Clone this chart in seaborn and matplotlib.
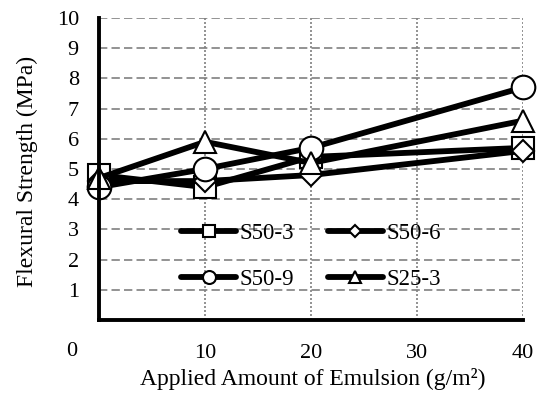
import matplotlib
matplotlib.use("Agg")
import matplotlib.pyplot as plt
import seaborn as sns
import pandas as pd

x_amount = [0, 10, 20, 40]
s50_3 = [4.8, 4.4, 5.4, 5.7]
s50_6 = [4.6, 4.6, 4.8, 5.6]
s50_9 = [4.4, 5.0, 5.7, 7.7]
s25_3 = [4.7, 5.9, 5.2, 6.6]
series_names = ["S50-3", "S50-6", "S50-9", "S25-3"]
marker_map = {"S50-3": "s", "S50-6": "D", "S50-9": "o", "S25-3": "^"}
y_ticks = [1, 2, 3, 4, 5, 6, 7, 8, 9, 10]
x_ticks = [10, 20, 30, 40]

df = pd.DataFrame({
    "x": x_amount * 4,
    "y": s50_3 + s50_6 + s50_9 + s25_3,
    "series": sum([[n] * len(x_amount) for n in series_names], []),
})

sns.set_style("white")
plt.rcParams["font.family"] = ["Liberation Serif", "DejaVu Serif"]

fig = plt.figure(figsize=(5.42, 3.94), dpi=100)
ax = fig.add_axes([99 / 542, 1 - 320 / 394, 424 / 542, 302 / 394])

msizes = {"s": 16, "D": 11.5, "o": 17, "^": 16.5}
for name in series_names:
    sub = df[df["series"] == name]
    m = marker_map[name]
    sns.lineplot(data=sub, x="x", y="y", ax=ax, color="black", lw=4.2,
                 marker=m, markersize=msizes[m], markerfacecolor="white",
                 markeredgecolor="black", markeredgewidth=1.5, label=name,
                 clip_on=False, zorder=5)

ax.set_xlim(0, 40)
ax.set_ylim(0, 10)
ax.set_yticks(y_ticks)
ax.set_xticks(x_ticks)
ax.set_yticklabels([str(v) for v in y_ticks])
ax.set_xticklabels([str(v) for v in x_ticks])

ax.yaxis.grid(True, linestyle=(0, (5, 2.5)), color="#808080", lw=1.2)
ax.xaxis.grid(True, linestyle=(0, (1.2, 1.2)), color="#808080", lw=1.2)
ax.set_axisbelow(True)

for s in ["top", "right"]:
    ax.spines[s].set_visible(False)
for s in ["left", "bottom"]:
    ax.spines[s].set_color("black")
    ax.spines[s].set_linewidth(2.8)
    ax.spines[s].set_zorder(6)

ax.tick_params(axis="y", direction="in", length=7, width=2.6, color="black",
               pad=14.5, labelsize=16, colors="black")
ax.tick_params(axis="x", length=0, pad=17, labelsize=16, colors="black")

# "0" label at the origin corner
ax.text(-27 / 424, -32 / 302, "0", transform=ax.transAxes, ha="center",
        va="center", fontsize=16, color="black")

ax.set_xlabel("Applied Amount of Emulsion (g/m²)", fontsize=17, color="black")
ax.set_ylabel("Flexural Strength (MPa)", fontsize=17, color="black")
ax.xaxis.set_label_coords((313 - 99) / 424, -(368 - 320) / 302)
ax.yaxis.set_label_coords(-(99 - 38) / 424, (320 - 171.5) / 302)

handles, labels = ax.get_legend_handles_labels()
order = [0, 2, 1, 3]
leg = ax.legend([handles[i] for i in order], [labels[i] for i in order],
                ncol=2, loc="center", bbox_to_anchor=(0.5, 0.21), frameon=False,
                fontsize=16.5, handlelength=2.4, handletextpad=0.15,
                columnspacing=1.45, labelspacing=1.1, markerscale=0.55,
                borderpad=0)
for t in leg.get_texts():
    t.set_color("black")

fig.savefig("out.png", dpi=100)
